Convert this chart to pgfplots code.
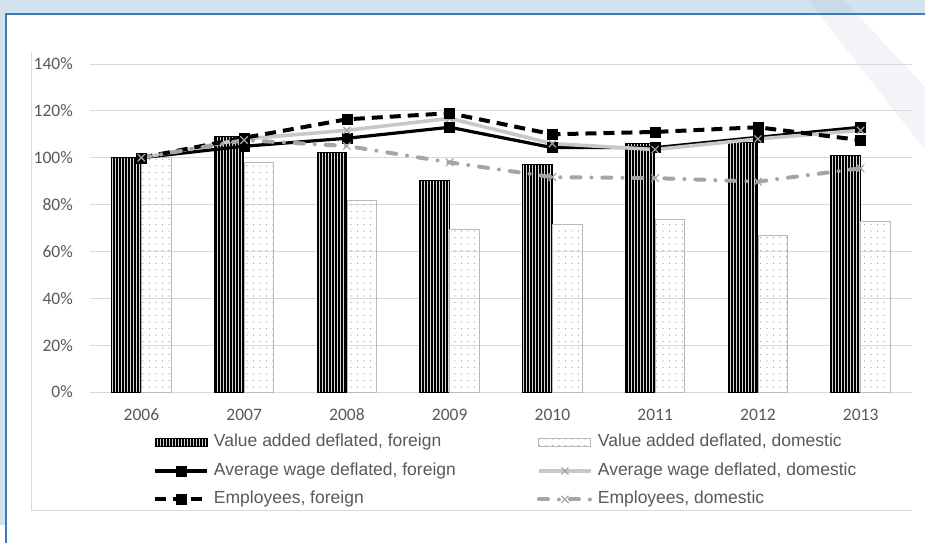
\documentclass[border=0pt]{standalone}
\usepackage{fontspec}
\setmainfont{Liberation Sans}
\newfontfamily\calibri{Carlito}
\usepackage{pgfplots}
\usepackage{pgfplotstable}
\pgfplotsset{compat=1.18}
\usetikzlibrary{patterns.meta}

\definecolor{frameblue}{HTML}{3E7CB9}
\definecolor{bandblue}{HTML}{D2E3EE}
\definecolor{gridgray}{HTML}{D9D9D9}
\definecolor{txtgray}{HTML}{595959}
\definecolor{ltgray}{HTML}{C8C8C8}
\definecolor{midgray}{HTML}{A5A5A5}
\definecolor{wmark}{HTML}{5A6A9A}

% values in percent of 2006
\pgfplotstableread{
x vaf   vad  awf   awd   ef    ed
0 100   100  100   100   100   100
1 108.9 98.2 104.9 108   108.5 107.5
2 102.2 81.6 108.3 111.7 116.4 105
3 90.4  69.5 113   116.8 119   98
4 97.2  71.6 104.3 106   110   91.7
5 106   73.8 104.3 103.5 111   91.3
6 106.5 67   108.7 108   113   89.8
7 101   72.9 113   111.7 107.5 95.5
}\data

\pgfplotsset{
  barleg/.style={legend image code/.code={\draw[##1] (0bp,-4bp) rectangle (52bp,4bp);}},
  linleg/.style={legend image code/.code={\draw[##1,mark repeat=2,mark phase=2] plot coordinates {(0bp,0bp) (26bp,0bp) (52bp,0bp)};}},
}

\begin{document}
\begin{tikzpicture}
\useasboundingbox (0,0) rectangle (925bp,-543bp);
\fill[white] (0,0) rectangle (925bp,-543bp);
\fill[bandblue] (0,0) rectangle (925bp,-13bp);
\fill[bandblue] (0,0) rectangle (5bp,-525bp);
\draw[frameblue,line width=2.2bp] (6bp,-543bp) -- (6bp,-14bp) -- (925bp,-14bp);
\draw[gridgray,line width=0.8bp] (31bp,-52bp) -- (31bp,-510bp) -- (912bp,-510bp);

% faint watermark band
\fill[wmark, opacity=0.07] (808bp,0) -- (844bp,0) -- (925bp,-87bp) -- (925bp,-150bp) -- cycle;

\begin{axis}[
  at={(90bp,-392bp)}, anchor=south west,
  scale only axis, width=822bp, height=328bp,
  xmin=-0.5, xmax=7.5, ymin=0, ymax=140,
  xtick={0,1,2,3,4,5,6,7},
  xticklabels={2006,2007,2008,2009,2010,2011,2012,2013},
  ytick={0,20,40,60,80,100,120,140},
  yticklabel={\pgfmathprintnumber{\tick}\%},
  /pgf/number format/assume math mode=true,
  tick label style={font=\calibri\fontsize{17.5bp}{21bp}\selectfont, text=txtgray, inner sep=0pt},
  xticklabel style={anchor=north, text height=12bp, text depth=0bp, yshift=-16bp},
  yticklabel style={xshift=-17bp},
  major tick length=0pt,
  axis line style={draw=none},
  ymajorgrids,
  grid style={gridgray, line width=1bp},
  clip=false,
  linleg,
  legend columns=2,
  legend cell align=left,
  legend style={
    at={(0.0766,-0.128)}, anchor=north west, draw=none, fill=none,
    inner sep=0pt, outer sep=0pt,
    font=\fontsize{17.5bp}{21bp}\selectfont, text=txtgray,
    nodes={inner sep=0pt, text height=13bp, text depth=4bp},
    row sep=11.5bp,
    /tikz/every odd column/.style={column sep=5bp},
    /tikz/column 2/.style={column sep=81bp},
  },
]
\addplot[ybar, bar width=29.5bp, bar shift=-15bp, draw=black, line width=0.8bp,
  preaction={fill=gray!30},
  pattern={Lines[angle=90,distance=3bp,line width=1.5bp]}, pattern color=black, barleg]
  table[x=x,y=vaf]{\data};
\addplot[ybar, bar width=29.5bp, bar shift=15bp, draw=gray!55, line width=0.8bp,
  pattern={Dots[distance=6.5bp,radius=0.55bp]}, pattern color=gray!80, barleg]
  table[x=x,y=vad]{\data};
\addplot[black, line width=3.2bp, mark=square*, mark size=5bp,
  mark options={solid, line width=0.4bp}]
  table[x=x,y=awf]{\data};
\addplot[ltgray, line width=3.6bp, mark=x, mark size=5bp,
  mark options={solid, midgray, line width=1.2bp}]
  table[x=x,y=awd]{\data};
\addplot[black, line width=4bp, dash pattern=on 11bp off 7bp, mark=square*, mark size=5bp,
  mark options={solid, line width=0.4bp}]
  table[x=x,y=ef]{\data};
\addplot[midgray, line width=4bp, line cap=round, dash pattern=on 9bp off 11bp on 0bp off 11bp,
  mark=x, mark size=5bp, mark options={solid, line width=1.2bp}]
  table[x=x,y=ed]{\data};
\legend{{Value added deflated, foreign}, {Value added deflated, domestic},
  {Average wage deflated, foreign}, {Average wage deflated, domestic},
  {Employees, foreign}, {Employees, domestic}}
\end{axis}
\end{tikzpicture}
\end{document}
